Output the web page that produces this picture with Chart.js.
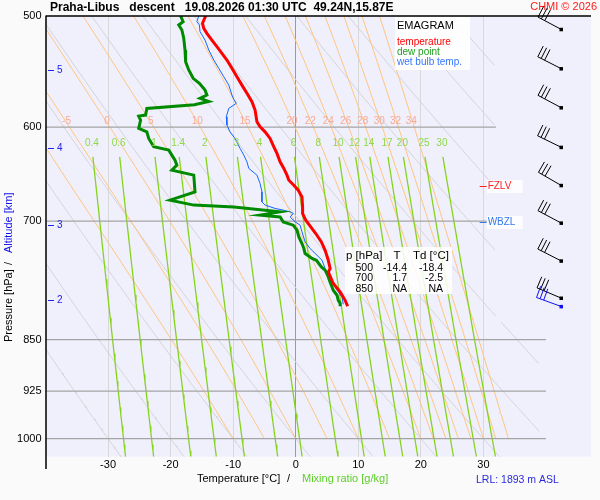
<!DOCTYPE html>
<html>
<head>
<meta charset="utf-8">
<script src="https://cdn.jsdelivr.net/npm/chart.js@4.4.1/dist/chart.umd.min.js"></script>
<style>
  html, body { margin: 0; padding: 0; background: #fafafa; }
  canvas { display: block; }
</style>
</head>
<body>
<canvas id="emagram" width="600" height="500" style="width:600px;height:500px"></canvas>
<script>
const FONT = "'Liberation Sans', Arial, sans-serif";

// sounding: pressure [hPa] and temperature [°C]
const tempP = [500, 506.0, 510.2, 514.4, 520.1, 525.8, 531.6, 537.4, 544.8, 552.4, 560.0, 567.6, 575.5, 583.4, 594.7, 599.6, 604.6, 611.2, 619.6, 626.4, 635.1, 642.0, 649.1, 654.5, 659.9, 665.3, 672.7, 683.8, 691.3, 698.9, 706.6, 714.3, 724.2, 734.2, 746.3, 756.5, 760.8, 775.4, 786.1, 797.0, 804.8];
const tempT = [-14.4, -14.9, -14.7, -14.2, -13.4, -12.6, -11.8, -11.0, -10.2, -9.4, -8.6, -7.8, -7.0, -6.5, -6.2, -5.7, -4.9, -4.1, -3.5, -3.0, -2.5, -1.9, -1.4, -1.1, -0.3, 0.4, 1.0, 1.1, 1.1, 1.6, 2.4, 3.2, 4.1, 4.7, 5.2, 5.5, 5.2, 6.0, 7.1, 7.9, 8.3];

const dewP = [500, 504.7, 507.4, 511.6, 518.6, 528.7, 538.9, 546.3, 553.8, 558.4, 564.6, 569.2, 572.3, 575.2, 578.4, 581.8, 588.2, 589.2, 593.1, 601.2, 604.6, 611.2, 619.6, 623.0, 628.1, 633.3, 638.5, 643.8, 649.1, 667.1, 676.3, 681.8, 683.8, 689.4, 693.1, 695.1, 700.8, 704.6, 710.4, 718.3, 726.1, 732.1, 738.1, 744.2, 746.3, 754.5, 758.6, 764.9, 773.7, 783.9, 790.4, 797.0, 801.2, 804.8];
const dewT = [-18.4, -18.0, -18.7, -18.2, -17.9, -17.7, -17.6, -17.1, -16.4, -15.4, -14.5, -14.2, -15.3, -13.9, -16.2, -23.8, -24.0, -25.1, -24.8, -25.1, -23.8, -23.5, -22.7, -20.3, -19.8, -19.3, -19.0, -19.8, -16.3, -16.1, -20.1, -16.3, -9.9, -2.5, -5.7, -2.5, -2.0, -0.4, 0.2, 0.5, 1.0, 1.3, 1.5, 2.6, 3.3, 4.1, 4.7, 5.1, 5.5, 6.0, 6.6, 6.8, 7.1, 7.1];

const wbP = [500, 504.7, 507.4, 513.0, 520.1, 528.7, 537.4, 544.8, 552.4, 560.0, 569.2, 573.2, 577.0, 581.8, 589.9, 597.9, 604.6, 611.2, 621.2, 628.1, 635.1, 642.0, 649.1, 658.0, 667.1, 678.2, 681.8, 685.5, 687.4, 689.4, 691.3, 695.1, 700.8, 704.6, 712.4, 724.2, 732.1, 740.2, 746.3, 756.5, 764.9, 773.3, 783.9, 792.7, 802.2];
const wbT = [-15.5, -15.8, -15.4, -15.3, -14.5, -13.9, -13.1, -12.3, -11.5, -10.7, -10.2, -9.9, -9.5, -10.7, -11.1, -11.0, -10.5, -9.7, -8.9, -8.3, -7.8, -7.5, -6.2, -5.7, -5.4, -5.4, -4.9, -3.3, -2.0, -0.9, -0.4, -0.9, -0.1, 0.7, 1.0, 1.5, 2.3, 3.4, 4.2, 4.7, 5.2, 5.8, 6.6, 7.4, 7.6];

// wind barbs (direction deg, speed kt)
const windP = [511, 545, 581, 620, 660, 702, 747, 794];
const windDir = [298, 297, 298, 296, 300, 298, 297, 293];
const windSpd = [30, 30, 30, 30, 30, 30, 30, 30];
const lowWindP = [805];
const lowWindDir = [290];
const lowWindSpd = [30];

// axes and diagram lines
const pTicks = [500, 600, 700, 850, 925, 1000];
const tTicks = [-30, -20, -10, 0, 10, 20, 30];
const isobars = [600, 700, 850, 925, 1000];
const dryThetaC = [-30, -20, -10, 0, 10, 20, 30, 40, 50, 60, 70, 80, 90];
const moistThetaW = [-10, -5, 0, 5, 10, 15, 20, 22, 24, 26, 28, 30, 32, 34];
const mixRatios = [0.4, 0.6, 1, 1.4, 2, 3, 4, 6, 8, 10, 12, 14, 17, 20, 25, 30];
const altKm = [5, 4, 3, 2];
const altP = [546, 621, 704, 796];
const levelNames = ["FZLV", "WBZL"];
const levelP = [661, 701];
const levelColors = ["#ff2020", "#3377ee"];

const tableHead = ["p [hPa]", "T", "Td [°C]"];
const tableP = ["500", "700", "850"];
const tableT = ["-14.4", "1.7", "NA"];
const tableTd = ["-18.4", "-2.5", "NA"];

// thermodynamics for the background lines
const Rd = 287.04, Cp = 1005.7, Lv = 2.501e6, EPS = 0.622, KAPPA = Rd / Cp;
const es = tc => 6.112 * Math.exp(17.67 * tc / (tc + 243.5));
const dewFromE = e => { const l = Math.log(e / 6.112); return 243.5 * l / (17.67 - l); };

function moistSlope(p, T) {
  const e = es(T - 273.15);
  const rs = EPS * e / (p - e);
  return ((Rd * T + Lv * rs) / p) / (Cp + (Lv * Lv * rs * EPS) / (Rd * T * T));
}

function moistLine(tw) {
  const pts = [];
  let T = tw + 273.15;
  const h = -5;
  for (let p = 1000; p >= 500; p += h) {
    pts.push({ x: T - 273.15, y: p });
    const k1 = moistSlope(p, T);
    const k2 = moistSlope(p + h / 2, T + h / 2 * k1);
    const k3 = moistSlope(p + h / 2, T + h / 2 * k2);
    const k4 = moistSlope(p + h, T + h * k3);
    T += h / 6 * (k1 + 2 * k2 + 2 * k3 + k4);
  }
  return pts;
}

// right edge of the diagram lines (narrower where the barbs are)
const rightLimit = p => (p >= 825 ? 39 : 32);

function drySegments(thC) {
  const segs = [];
  let cur = [];
  for (let p = 500; p <= 1030; p += 2) {
    const t = (thC + 273.15) * Math.pow(p / 1000, KAPPA) - 273.15;
    if (t <= rightLimit(p)) cur.push({ x: t, y: p });
    else if (cur.length) { segs.push(cur); cur = []; }
  }
  if (cur.length) segs.push(cur);
  return segs;
}

function mixLine(r) {
  const pts = [];
  for (let p = 630; p <= 1030; p += 10) {
    const e = (r / 1000) * p / (EPS + r / 1000);
    pts.push({ x: dewFromE(e), y: p });
  }
  return pts;
}

function lineSet(points, color, width, order) {
  return { data: points, showLine: true, borderColor: color, borderWidth: width,
           pointRadius: 0, fill: false, order: order };
}

const datasets = [];
datasets.push(lineSet(tempP.map((p, i) => ({ x: tempT[i], y: p })), "#ff0000", 3, 0));
datasets.push(lineSet(dewP.map((p, i) => ({ x: dewT[i], y: p })), "#008a00", 3, 1));
datasets.push(lineSet(wbP.map((p, i) => ({ x: wbT[i], y: p })), "#1466ff", 1, 2));

isobars.forEach(p => datasets.push(lineSet([{ x: -40, y: p }, { x: p >= 825 ? 40 : 32, y: p }], "#a4a4a4", 1.2, 5)));
const moistCurves = moistThetaW.map(moistLine);
moistCurves.forEach(c => datasets.push(lineSet(c, "#ffc47e", 1, 7)));
dryThetaC.forEach(th => drySegments(th).forEach(s => datasets.push(lineSet(s, "#d2d2d6", 1, 8))));
const mixCurves = mixRatios.map(mixLine);
mixCurves.forEach(c => datasets.push(lineSet(c, "#86d31c", 1.3, 6)));

function txt(ctx, s, x, y, font, color, align) {
  ctx.font = font;
  ctx.fillStyle = color;
  ctx.textAlign = align || "left";
  ctx.textBaseline = "middle";
  ctx.fillText(s, x, y);
}

function drawBarb(ctx, x0, y0, dir, spd, color) {
  const a = dir * Math.PI / 180;
  const sx = Math.sin(a), sy = -Math.cos(a);
  const px = -sy, py = sx;
  const L = 26;
  const tx = x0 + sx * L, ty = y0 + sy * L;
  ctx.strokeStyle = color;
  ctx.fillStyle = color;
  ctx.lineWidth = 1;
  ctx.beginPath();
  ctx.moveTo(x0, y0);
  ctx.lineTo(tx, ty);
  ctx.stroke();
  ctx.fillRect(x0 - 1.5, y0 - 1.5, 3.5, 3.5);
  let rem = Math.round(spd / 5) * 5;
  let pos = 0;
  ctx.beginPath();
  while (rem >= 10) {
    const bx = tx - sx * pos, by = ty - sy * pos;
    ctx.moveTo(bx, by);
    ctx.lineTo(bx + px * 12, by + py * 12);
    pos += 3.8;
    rem -= 10;
  }
  if (rem >= 5) {
    const bx = tx - sx * pos, by = ty - sy * pos;
    ctx.moveTo(bx, by);
    ctx.lineTo(bx + px * 6.5, by + py * 6.5);
  }
  ctx.stroke();
}

const overlay = {
  id: "overlay",
  beforeDraw(chart) {
    const { ctx, chartArea: a } = chart;
    ctx.save();
    ctx.fillStyle = "#fafafa";
    ctx.fillRect(0, 0, chart.width, chart.height);
    ctx.fillStyle = "#f0f0fc";
    ctx.fillRect(a.left, a.top, a.right - a.left, a.bottom - a.top);
    ctx.restore();
  },
  afterDatasetsDraw(chart) {
    const { ctx } = chart;
    const xs = chart.scales.x, ys = chart.scales.y;
    ctx.save();
    // wet bulb potential temperature labels along 600 hPa
    const y600 = ys.getPixelForValue(600) - 6;
    moistThetaW.forEach((tw, i) => {
      const pt = moistCurves[i].find(q => q.y === 600);
      if (pt && pt.x > -38) txt(ctx, String(tw), xs.getPixelForValue(pt.x) - 3, y600, "10px " + FONT, "#f7a996", "center");
    });
    // mixing ratio labels
    const yMix = ys.getPixelForValue(616);
    mixRatios.forEach((r, i) => {
      txt(ctx, String(r), xs.getPixelForValue(mixCurves[i][0].x) - 1, yMix, "10px " + FONT, "#8ed84a", "center");
    });
    // altitude marks
    ctx.strokeStyle = "#2222ee";
    ctx.lineWidth = 1;
    altKm.forEach((k, i) => {
      const py = Math.round(ys.getPixelForValue(altP[i])) + 0.5;
      ctx.beginPath();
      ctx.moveTo(48, py);
      ctx.lineTo(54, py);
      ctx.stroke();
      txt(ctx, String(k), 57, py, "10px " + FONT, "#2222ee");
    });
    ctx.restore();
  },
  afterDraw(chart) {
    const { ctx, chartArea: a } = chart;
    const xs = chart.scales.x, ys = chart.scales.y;
    ctx.save();

    // frame lines
    ctx.strokeStyle = "#000";
    ctx.lineWidth = 1.5;
    ctx.beginPath();
    ctx.moveTo(a.left, a.top);
    ctx.lineTo(a.right, a.top);
    ctx.moveTo(a.left + 0.5, a.top);
    ctx.lineTo(a.left + 0.5, 469);
    ctx.stroke();

    // titles
    txt(ctx, "Praha-Libus   descent   19.08.2026 01:30 UTC  49.24N,15.87E", 50, 8, "bold 12px " + FONT, "#000");
    txt(ctx, "CHMI © 2026", 597, 7, "11px " + FONT, "#ff1a1a", "right");
    txt(ctx, "Temperature [°C]", 197, 479, "11px " + FONT, "#000");
    txt(ctx, "/", 287, 479, "11px " + FONT, "#000");
    txt(ctx, "Mixing ratio [g/kg]", 302, 479, "11px " + FONT, "#5ccf2a");
    txt(ctx, "LRL: 1893 m ASL", 476, 480, "10.5px " + FONT, "#2a2ae0");

    ctx.save();
    ctx.translate(9, 0);
    ctx.rotate(-Math.PI / 2);
    txt(ctx, "Pressure [hPa]", -342, 0, "11px " + FONT, "#000");
    txt(ctx, "/", -265, 0, "11px " + FONT, "#000");
    txt(ctx, "Altitude [km]", -253, 0, "11px " + FONT, "#1010ee");
    ctx.restore();

    // legend
    ctx.fillStyle = "rgba(255,255,255,0.88)";
    ctx.fillRect(395, 17, 75, 53);
    txt(ctx, "EMAGRAM", 397, 26, "11px " + FONT, "#000");
    txt(ctx, "temperature", 397, 42, "10px " + FONT, "#ff0000");
    txt(ctx, "dew point", 397, 52, "10px " + FONT, "#22a022");
    txt(ctx, "wet bulb temp.", 397, 62, "10px " + FONT, "#3377ff");

    // values table
    ctx.fillStyle = "rgba(255,255,255,0.85)";
    ctx.fillRect(345, 247, 107, 47);
    txt(ctx, tableHead[0], 346, 256, "11.5px " + FONT, "#000");
    txt(ctx, tableHead[1], 397, 256, "11.5px " + FONT, "#000", "center");
    txt(ctx, tableHead[2], 413, 256, "11.5px " + FONT, "#000");
    tableP.forEach((p, i) => {
      const y = 268 + i * 10.5;
      txt(ctx, p, 373, y, "10.5px " + FONT, "#000", "right");
      txt(ctx, tableT[i], 407, y, "10.5px " + FONT, "#000", "right");
      txt(ctx, tableTd[i], 443, y, "10.5px " + FONT, "#000", "right");
    });

    // freezing / wet bulb zero levels
    levelNames.forEach((n, i) => {
      const py = Math.round(ys.getPixelForValue(levelP[i])) + 0.5;
      const x0 = xs.getPixelForValue(29.4);
      ctx.fillStyle = "rgba(255,255,255,0.85)";
      ctx.fillRect(x0 + 7, py - 6.5, 36, 13);
      ctx.strokeStyle = levelColors[i];
      ctx.lineWidth = 1;
      ctx.beginPath();
      ctx.moveTo(x0, py);
      ctx.lineTo(x0 + 7, py);
      ctx.stroke();
      txt(ctx, n, x0 + 8, py, "10px " + FONT, levelColors[i]);
    });

    // wind barbs
    const bx = xs.getPixelForValue(42.4);
    windP.forEach((p, i) => drawBarb(ctx, bx, ys.getPixelForValue(p), windDir[i], windSpd[i], "#000"));
    lowWindP.forEach((p, i) => drawBarb(ctx, bx, ys.getPixelForValue(p), lowWindDir[i], lowWindSpd[i], "#1010ee"));

    ctx.restore();
  }
};

new Chart(document.getElementById("emagram"), {
  type: "scatter",
  data: { datasets },
  options: {
    responsive: false,
    animation: false,
    events: [],
    layout: { padding: { top: 16, right: 9, left: 0, bottom: 0 } },
    elements: { point: { radius: 0 }, line: { tension: 0 } },
    plugins: { legend: { display: false }, tooltip: { enabled: false } },
    scales: {
      x: {
        type: "linear",
        min: -40,
        max: 47.2,
        afterBuildTicks: s => { s.ticks = tTicks.map(v => ({ value: v })); },
        afterFit: s => { s.height = 43.3; },
        border: { display: false },
        grid: {
          drawTicks: false,
          tickLength: 0,
          color: c => (c.tick && c.tick.value === 0 ? "#9a9a9a" : "#d8d8d8"),
          lineWidth: 1
        },
        ticks: { color: "#000", font: { family: FONT, size: 11 }, padding: 2, maxRotation: 0 }
      },
      y: {
        type: "logarithmic",
        reverse: true,
        min: 500,
        max: 1030,
        afterBuildTicks: s => { s.ticks = pTicks.map(v => ({ value: v })); },
        afterFit: s => { s.width = 45.5; },
        border: { display: false },
        grid: { display: false, drawTicks: false },
        ticks: { color: "#000", font: { family: FONT, size: 11 }, padding: 4, callback: v => String(v) }
      }
    }
  },
  plugins: [overlay]
});
</script>
</body>
</html>
